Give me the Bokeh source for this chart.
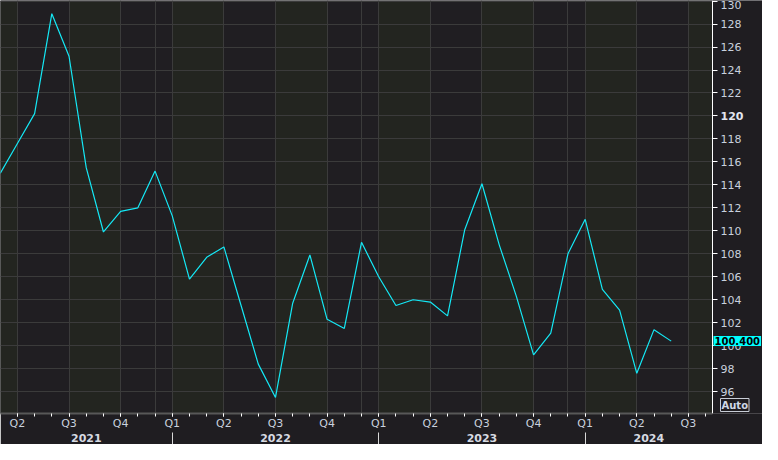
from bokeh.plotting import figure
from bokeh.models import FixedTicker, LinearAxis, Label, BoxAnnotation, Range1d
from bokeh.embed import file_html
from bokeh.resources import INLINE

# ---- data -------------------------------------------------------------
months = ["2021-03", "2021-04", "2021-05", "2021-06", "2021-07", "2021-08",
          "2021-09", "2021-10", "2021-11", "2021-12", "2022-01", "2022-02",
          "2022-03", "2022-04", "2022-05", "2022-06", "2022-07", "2022-08",
          "2022-09", "2022-10", "2022-11", "2022-12", "2023-01", "2023-02",
          "2023-03", "2023-04", "2023-05", "2023-06", "2023-07", "2023-08",
          "2023-09", "2023-10", "2023-11", "2023-12", "2024-01", "2024-02",
          "2024-03", "2024-04", "2024-05", "2024-06"]
values = [115.0, 117.6, 120.2, 128.9, 125.2, 115.5,
          109.9, 111.7, 112.0, 115.2, 111.3, 105.8,
          107.7, 108.6, 103.5, 98.4, 95.5, 103.7,
          107.9, 102.3, 101.5, 109.0, 106.0, 103.5,
          104.0, 103.8, 102.6, 110.1, 114.1, 108.8,
          104.3, 99.2, 101.1, 108.0, 111.0, 104.9,
          103.1, 97.6, 101.4, 100.4]
quarter_labels = ["Q1", "Q2", "Q3", "Q4"]
year_labels = ["2021", "2022", "2023", "2024"]
y_ticks = list(range(96, 132, 2))
last_value = values[-1]

BASE_YEAR, BASE_MONTH = 2021, 3


def month_index(s):
    y, m = s.split("-")
    return (int(y) - BASE_YEAR) * 12 + int(m) - BASE_MONTH


xs = [month_index(m) for m in months]

W, H = 762, 444
AXIS_PX = 712          # where the price axis sits inside the canvas
X0, X1 = 0.017, 41.4   # data span of the chart area
XE = X0 + (X1 - X0) * W / AXIS_PX
Y0, Y1 = 94.1, 130.05

BG = "#1f1d21"
BAND_A = "#232520"
BAND_B = "#201e22"
GRID = "#3b3b3b"
TXT = "#c9d1de"
CYAN = "#14e8f5"
FONT = "DejaVu Sans"

p = figure(width=W, height=H, output_backend="svg", toolbar_location=None,
           x_range=Range1d(X0, XE), y_range=Range1d(Y0, Y1),
           y_axis_location="right", min_border_left=0, min_border_top=0,
           min_border_right=0, min_border_bottom=0)
p.background_fill_color = BAND_B
p.border_fill_color = BG
p.outline_line_color = None

# quarter positions
q_ticks, q_over = [], {}
band_starts = []
for yr in range(2021, 2025):
    for qi in range(4):
        k = (yr - BASE_YEAR) * 12 + qi * 3 + 1 - BASE_MONTH
        band_starts.append((k, qi))
        if X0 - 0.01 <= k <= X1:
            q_ticks.append(k)
            q_over[k] = quarter_labels[qi]

for k, qi in band_starts:
    if k + 3 < X0 or k > X1:
        continue
    color = BAND_A if qi % 2 == 0 else BAND_B
    p.add_layout(BoxAnnotation(left=k, right=min(k + 3, X1), fill_color=color,
                               fill_alpha=1.0, line_color=None, level="image"))

# plain strip behind the price axis (covers the grid there)
p.add_layout(BoxAnnotation(left=X1, fill_color=BG, fill_alpha=1.0,
                           line_color=None, level="glyph"))

year_starts = [(int(y) - BASE_YEAR) * 12 + 1 - BASE_MONTH for y in year_labels]
dec_lines = [s - 1 for s in year_starts if X0 < s - 1 < X1]

# grids
p.xgrid.ticker = FixedTicker(ticks=q_ticks + dec_lines)
p.xgrid.grid_line_color = GRID
p.ygrid.ticker = FixedTicker(ticks=y_ticks)
p.ygrid.grid_line_color = GRID

# line
p.line(xs, values, line_color=CYAN, line_width=1.2)

# right (price) axis, drawn at the edge of the chart area
ya = p.yaxis[0]
ya.fixed_location = X1
ya.ticker = FixedTicker(ticks=y_ticks)
ya.major_label_overrides = {120: ""}
ya.axis_line_color = "#ffffff"
ya.major_tick_line_color = "#ffffff"
ya.major_tick_out = 5
ya.major_tick_in = 0
ya.minor_tick_line_color = None
ya.major_label_standoff = 3
ya.major_label_text_font = FONT
ya.major_label_text_font_size = "11px"
ya.major_label_text_color = TXT

# bottom axis (quarters)
xa = p.xaxis[0]
xa.bounds = (X0, X1)
xa.ticker = FixedTicker(ticks=q_ticks, minor_ticks=list(range(0, 42)))
xa.major_label_overrides = q_over
xa.axis_line_color = "#585858"
xa.axis_line_width = 2
xa.major_tick_line_color = "#ffffff"
xa.minor_tick_line_color = "#ffffff"
xa.major_tick_out = 3
xa.major_tick_in = 0
xa.minor_tick_out = 3
xa.minor_tick_in = 0
xa.major_label_standoff = 0
xa.major_label_text_font = FONT
xa.major_label_text_font_size = "11px"
xa.major_label_text_color = TXT

# bottom axis (years)
yr_ticks, yr_over = [], {}
for i, y in enumerate(year_labels):
    a = max(year_starts[i], X0)
    b = min(year_starts[i] + 12, X1)
    mid = round((a + b) / 2, 3)
    yr_ticks.append(mid)
    yr_over[mid] = y
xa2 = LinearAxis(ticker=FixedTicker(ticks=yr_ticks,
                                    minor_ticks=[s for s in year_starts if X0 < s < X1]),
                 major_label_overrides=yr_over, bounds=(X0, X1))
xa2.axis_line_color = None
xa2.major_tick_line_color = None
xa2.major_tick_out = 0
xa2.major_tick_in = 0
xa2.minor_tick_line_color = "#d8d8d8"
xa2.minor_tick_out = 12
xa2.minor_tick_in = 0
xa2.major_label_standoff = -11
xa2.major_label_text_font = FONT
xa2.major_label_text_font_size = "11px"
xa2.major_label_text_font_style = "bold"
xa2.major_label_text_color = "#d6dae2"
p.add_layout(xa2, "below")

# bold 120 label
p.add_layout(Label(x=X1, y=120, x_offset=8, text="120", text_font=FONT,
                   text_font_size="11px", text_font_style="bold",
                   text_color="#e2e6ee", text_baseline="middle", text_align="left"))

# last value box
p.add_layout(Label(x=X1, y=last_value, x_offset=1, text=f"{last_value:.3f}",
                   text_font=FONT, text_font_size="10px", text_font_style="bold",
                   text_color="#000000", background_fill_color="#00ffff",
                   text_baseline="middle", text_align="left", padding=1))

# Auto box
p.add_layout(Label(x=X1, y=Y0, x_offset=8, y_offset=2, text="Auto",
                   text_font=FONT, text_font_size="10px", text_font_style="bold",
                   text_color="#d0d8e6", border_line_color="#c8cdd6",
                   border_line_width=1, text_baseline="bottom", text_align="left",
                   padding=1))

open("out.html", "w").write(file_html(p, INLINE))
